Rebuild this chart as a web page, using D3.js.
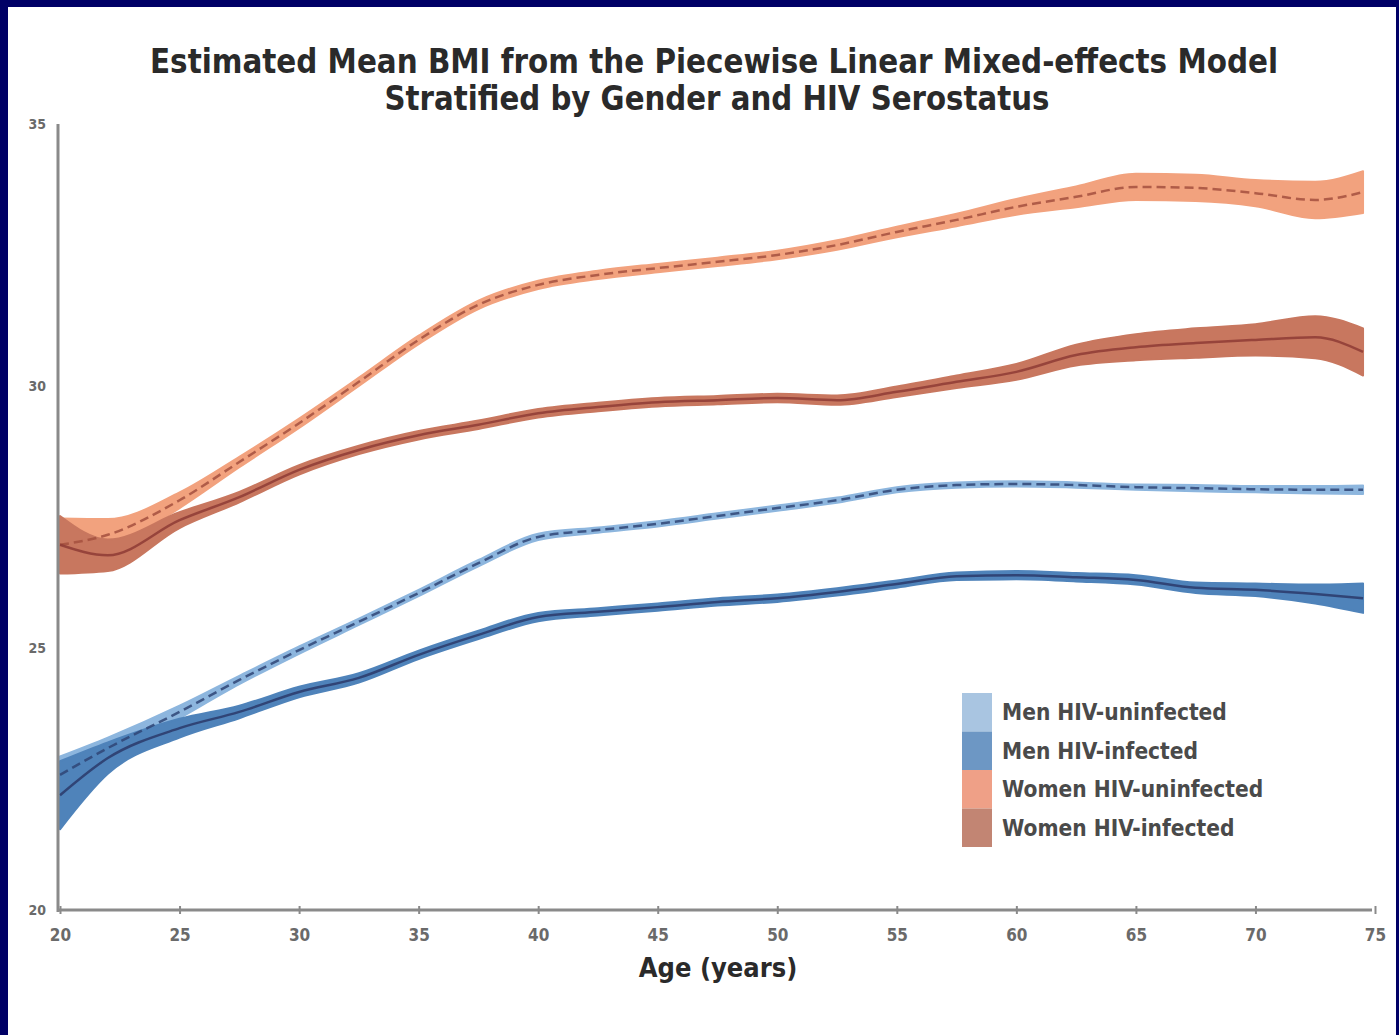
<!DOCTYPE html>
<html>
<head>
<meta charset="utf-8">
<script src="https://cdn.jsdelivr.net/npm/d3@7"></script>
<style>
  html, body { margin: 0; padding: 0; background: #000066; }
  svg { display: block; }
</style>
</head>
<body>
<svg id="chart" width="1399" height="1035"></svg>
<script>
// Ages at which the model estimates are reported
const ages = [20, 22, 25, 27.5, 30, 32.5, 35, 37.5, 40, 42.5, 45, 47.5, 50, 52.5, 55, 57.5, 60, 62.5, 65, 67.5, 70, 72.5, 74.5];

// Estimated mean BMI per group
const menUninfected   = [22.58, 23.09, 23.78, 24.39, 24.96, 25.50, 26.05, 26.62, 27.12, 27.25, 27.37, 27.52, 27.67, 27.82, 28.02, 28.11, 28.13, 28.11, 28.07, 28.05, 28.03, 28.02, 28.02];
const menInfected     = [22.19, 22.90, 23.47, 23.78, 24.16, 24.43, 24.87, 25.25, 25.59, 25.69, 25.78, 25.88, 25.95, 26.07, 26.22, 26.37, 26.39, 26.35, 26.30, 26.15, 26.11, 26.03, 25.95];
const womenUninfected = [26.97, 27.16, 27.82, 28.55, 29.29, 30.08, 30.88, 31.55, 31.93, 32.12, 32.25, 32.37, 32.50, 32.69, 32.94, 33.17, 33.42, 33.61, 33.80, 33.78, 33.68, 33.55, 33.70];
const womenInfected   = [26.97, 26.77, 27.44, 27.88, 28.40, 28.78, 29.06, 29.26, 29.48, 29.60, 29.69, 29.73, 29.77, 29.73, 29.89, 30.08, 30.27, 30.59, 30.74, 30.82, 30.88, 30.93, 30.65];

// Half-width of the confidence band around each estimate
const menUninfectedCI   = [0.35, 0.20, 0.12, 0.08, 0.07, 0.06, 0.06, 0.06, 0.06, 0.05, 0.05, 0.05, 0.05, 0.05, 0.05, 0.05, 0.05, 0.05, 0.05, 0.06, 0.06, 0.07, 0.08];
const menInfectedCI     = [0.65, 0.30, 0.18, 0.12, 0.10, 0.09, 0.08, 0.08, 0.08, 0.07, 0.07, 0.07, 0.07, 0.07, 0.07, 0.07, 0.08, 0.08, 0.09, 0.10, 0.12, 0.18, 0.28];
const womenUninfectedCI = [0.50, 0.30, 0.15, 0.10, 0.09, 0.08, 0.08, 0.08, 0.08, 0.08, 0.08, 0.08, 0.08, 0.09, 0.10, 0.12, 0.15, 0.20, 0.25, 0.25, 0.25, 0.35, 0.40];
const womenInfectedCI   = [0.55, 0.30, 0.15, 0.10, 0.09, 0.08, 0.08, 0.08, 0.08, 0.08, 0.08, 0.08, 0.08, 0.09, 0.10, 0.12, 0.15, 0.20, 0.25, 0.28, 0.30, 0.40, 0.45];

const seriesNames  = ["Men HIV-uninfected", "Men HIV-infected", "Women HIV-uninfected", "Women HIV-infected"];
const xTicks = [20, 25, 30, 35, 40, 45, 50, 55, 60, 65, 70, 75];
const yTicks = [20, 25, 30, 35];

const titleLines = ["Estimated Mean BMI from the Piecewise Linear Mixed-effects Model",
                    "Stratified by Gender and HIV Serostatus"];
const xAxisTitle = "Age (years)";

const series = [
  { name: seriesNames[0], mean: menUninfected,   ci: menUninfectedCI,   band: "#8db6de", line: "#2f4576", dash: "9,5", swatch: "#a9c5e1" },
  { name: seriesNames[1], mean: menInfected,     ci: menInfectedCI,     band: "#4f83ba", line: "#2a3a6a", dash: null,  swatch: "#6d97c4" },
  { name: seriesNames[2], mean: womenUninfected, ci: womenUninfectedCI, band: "#f2a27e", line: "#a5503e", dash: "9,5", swatch: "#efa087" },
  { name: seriesNames[3], mean: womenInfected,   ci: womenInfectedCI,   band: "#c8775f", line: "#8e3b35", dash: null,  swatch: "#c28573" }
];

const svg = d3.select("#chart");
const font = "'Liberation Sans Narrow', 'DejaVu Sans Condensed', 'Liberation Sans', Arial, sans-serif";

// White page inside the navy frame
svg.append("rect").attr("x", 8).attr("y", 7).attr("width", 1388).attr("height", 1028).attr("fill", "#ffffff");

const x = d3.scaleLinear().domain([20, 75]).range([60, 1375]);
const y = d3.scaleLinear().domain([20, 35]).range([910, 124]);

// Title
svg.append("text").attr("x", 714).attr("y", 73).attr("text-anchor", "middle")
  .attr("font-family", font).attr("font-weight", "bold").attr("font-size", 33).attr("fill", "#2a2a2a")
  .attr("textLength", 1128).attr("lengthAdjust", "spacingAndGlyphs").text(titleLines[0]);
svg.append("text").attr("x", 717).attr("y", 110).attr("text-anchor", "middle")
  .attr("font-family", font).attr("font-weight", "bold").attr("font-size", 33).attr("fill", "#2a2a2a")
  .attr("textLength", 665).attr("lengthAdjust", "spacingAndGlyphs").text(titleLines[1]);

// Confidence bands and mean curves
const plot = svg.append("g");
series.forEach(s => {
  const pts = ages.map((a, i) => ({ age: a, m: s.mean[i], lo: s.mean[i] - s.ci[i], hi: s.mean[i] + s.ci[i] }));
  plot.append("path").datum(pts)
    .attr("d", d3.area().curve(d3.curveMonotoneX).x(d => x(d.age)).y0(d => y(d.lo)).y1(d => y(d.hi)))
    .attr("fill", s.band).attr("stroke", s.band).attr("stroke-width", 2).attr("stroke-linejoin", "round");
});
series.forEach(s => {
  const pts = ages.map((a, i) => ({ age: a, m: s.mean[i] }));
  plot.append("path").datum(pts)
    .attr("d", d3.line().curve(d3.curveMonotoneX).x(d => x(d.age)).y(d => y(d.m)))
    .attr("fill", "none").attr("stroke", s.line).attr("stroke-width", 2.5)
    .attr("stroke-dasharray", s.dash).attr("opacity", 0.85);
});

// Axes
const axisColor = "#8a8a8a";
const xAxis = svg.append("g").attr("transform", `translate(0,910)`)
  .call(d3.axisBottom(x).tickValues(xTicks).tickSize(6).tickFormat(d3.format("d")));
xAxis.select(".domain").attr("stroke", axisColor).attr("stroke-width", 3).attr("d", "M58,0H1372");
xAxis.selectAll(".tick line").attr("stroke", axisColor).attr("stroke-width", 2).attr("y1", -4).attr("y2", 4);
xAxis.selectAll(".tick text").attr("font-family", font).attr("font-weight", "bold")
  .attr("font-size", 17).attr("fill", "#6a6a6a").attr("dy", "1.3em");

const yAxis = svg.append("g").attr("transform", `translate(58,0)`)
  .call(d3.axisLeft(y).tickValues(yTicks).tickSize(0).tickPadding(12).tickFormat(d3.format("d")));
yAxis.select(".domain").attr("stroke", axisColor).attr("stroke-width", 3).attr("d", "M0,124V912");
yAxis.selectAll(".tick text").attr("font-family", font).attr("font-weight", "bold")
  .attr("font-size", 14).attr("fill", "#6a6a6a");

// Axis title
svg.append("text").attr("x", 718).attr("y", 977).attr("text-anchor", "middle")
  .attr("font-family", font).attr("font-weight", "bold").attr("font-size", 27).attr("fill", "#2a2a2a")
  .text(xAxisTitle);

// Legend
const legend = svg.append("g").attr("transform", "translate(962,693)");
series.forEach((s, i) => {
  const row = legend.append("g").attr("transform", `translate(0,${i * 38.5})`);
  row.append("rect").attr("width", 30).attr("height", 38.5).attr("fill", s.swatch);
  row.append("text").attr("x", 40).attr("y", 27).attr("font-family", font).attr("font-weight", "bold")
    .attr("font-size", 22.5).attr("fill", "#4a4a4a").text(s.name);
});
</script>
</body>
</html>
